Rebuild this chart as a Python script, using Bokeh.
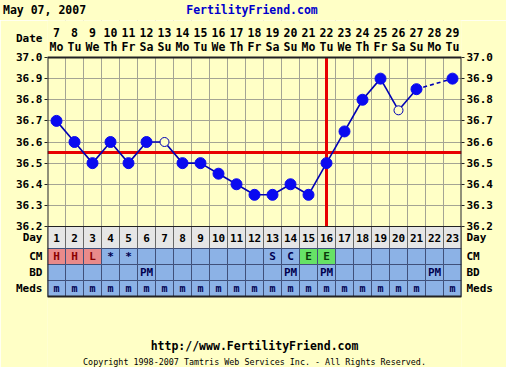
from bokeh.plotting import figure
from bokeh.layouts import column
from bokeh.models import Range1d, FixedTicker, LinearAxis, ColumnDataSource, Div
from bokeh.core.properties import value
from bokeh.embed import file_html
from bokeh.resources import INLINE

# ---------------- data ----------------
title_date = "May 07, 2007"
site = "FertilityFriend.com"
footer_url = "http://www.FertilityFriend.com"
footer_copy = "Copyright 1998-2007 Tamtris Web Services Inc. - All Rights Reserved."
date_label = "Date"

dates = [7, 8, 9, 10, 11, 12, 13, 14, 15, 16, 17, 18, 19, 20, 21, 22, 23, 24, 25, 26, 27, 28, 29]
weekdays = ["Mo", "Tu", "We", "Th", "Fr", "Sa", "Su", "Mo", "Tu", "We", "Th", "Fr", "Sa", "Su",
            "Mo", "Tu", "We", "Th", "Fr", "Sa", "Su", "Mo", "Tu"]
cycle_days = list(range(1, 24))
temps = [36.7, 36.6, 36.5, 36.6, 36.5, 36.6, 36.6, 36.5, 36.5, 36.45, 36.4, 36.35, 36.35, 36.4,
         36.35, 36.5, 36.65, 36.8, 36.9, 36.75, 36.85, None, 36.9]
open_days = [7, 20]
coverline = 36.55
ovulation_day = 16
temp_ticks = [36.2, 36.3, 36.4, 36.5, 36.6, 36.7, 36.8, 36.9, 37.0]

row_names = ["Day", "CM", "BD", "Meds"]
cm_codes = ["H", "H", "L", "*", "*", "", "", "", "", "", "", "", "S", "C", "E", "E", "", "", "", "", "", "", ""]
bd_codes = ["", "", "", "", "", "PM", "", "", "", "", "", "", "", "PM", "", "PM", "", "", "", "", "", "PM", ""]
meds_codes = ["m"] * 21 + ["", "m"]

# ---------------- styles / layout (pixels) ----------------
BG = "#FFFFC6"
GRID = "#A4A494"
BLUE_PT = "#0A0AF0"
BLUE_LN = "#0000B4"
RED = "#E80000"
FONT = "DejaVu Sans Mono"
W, H = 506, 367
TITLE_H = 20                 # html title strip
FRAME_L, FRAME_R = 47, 45
CHART_TOP = 57               # screen y of the top temperature tick
ROW_PX = [22, 16, 16, 16]
PX_PER_DEG = 169 / 0.8
DATE_ROW_Y, WDAY_ROW_Y, DATE_LABEL_Y = 32, 46, 38
URL_Y, COPY_Y = 345, 361

T_LO = temp_ticks[0]
T_HI = temp_ticks[-1]
Y_LO = T_LO - sum(ROW_PX) / PX_PER_DEG          # bottom of the table
X_LO = cycle_days[0] - 0.5
X_HI = cycle_days[-1] + 0.5


def ty(screen_y):
    """temperature-axis value for a screen row of the page"""
    return T_HI + (CHART_TOP - screen_y) / PX_PER_DEG


Y_TOP = ty(TITLE_H)
Y_BOTTOM = ty(H)

row_top, row_bot = [], []
cur = T_LO
for hgt in ROW_PX:
    row_top.append(cur)
    cur = cur - hgt / PX_PER_DEG
    row_bot.append(cur)
row_mid = [(a + b) / 2 for a, b in zip(row_top, row_bot)]

# ---------------- title strip ----------------
title_html = (
    f'<div style="position:relative;width:{W}px;height:{TITLE_H}px;background:{BG};'
    f"font-family:'{FONT}',monospace;font-weight:bold;font-size:11.5px;line-height:{TITLE_H}px;\">"
    f'<span style="position:absolute;left:3px;top:0px;color:#000000;">{title_date}</span>'
    f'<span style="position:absolute;left:0px;width:{W - 2}px;text-align:center;top:0px;color:#0000CC;">{site}</span>'
    '</div>'
)
title_div = Div(text=title_html, width=W, height=TITLE_H, margin=0)

# ---------------- main figure ----------------
p = figure(width=W, height=H - TITLE_H,
           x_range=Range1d(X_LO, X_HI), y_range=Range1d(Y_BOTTOM, Y_TOP),
           output_backend="svg", toolbar_location=None,
           x_axis_location=None, y_axis_location=None,
           min_border_left=FRAME_L, min_border_right=FRAME_R,
           min_border_top=0, min_border_bottom=0,
           background_fill_color=BG, border_fill_color=BG,
           outline_line_color=None)

p.xgrid.ticker = FixedTicker(ticks=[d - 0.5 for d in cycle_days] + [X_HI])
p.ygrid.ticker = FixedTicker(ticks=temp_ticks)
p.xgrid.grid_line_color = GRID
p.ygrid.grid_line_color = GRID

temp_over = {t: f"{t:.1f}" for t in temp_ticks}
for name, m in zip(row_names, row_mid):
    temp_over[m] = name
left_over = dict(temp_over)
left_over[ty(DATE_LABEL_Y)] = date_label

for loc, extra, over in (("left", [ty(DATE_LABEL_Y)], left_over), ("right", [], temp_over)):
    ax = LinearAxis(ticker=FixedTicker(ticks=extra + temp_ticks + row_mid, minor_ticks=temp_ticks),
                    major_label_overrides=over)
    ax.axis_line_color = None
    ax.major_tick_in = 0
    ax.major_tick_out = 0
    ax.minor_tick_in = 0
    ax.minor_tick_out = 3
    ax.minor_tick_line_color = "#222222"
    ax.major_label_standoff = 2
    ax.major_label_text_font = FONT
    ax.major_label_text_font_style = "bold"
    ax.major_label_text_font_size = "11px"
    ax.major_label_text_color = "#000000"
    p.add_layout(ax, loc)

# background strips covering grid outside the chart/table
p.quad(left=[X_LO, X_LO], right=[X_HI, X_HI], top=[Y_TOP, Y_LO], bottom=[T_HI, Y_BOTTOM],
       fill_color=BG, line_color=None)

# header: dates and weekdays
hdr_font = dict(text_font=value(FONT), text_font_style="bold", text_font_size="11.5px",
                text_align="center", text_baseline="middle", text_color="#000000")
p.text(x=cycle_days, y=[ty(DATE_ROW_Y)] * len(cycle_days), text=[str(d) for d in dates], **hdr_font)
p.text(x=cycle_days, y=[ty(WDAY_ROW_Y)] * len(cycle_days), text=weekdays, **hdr_font)

# table cells
cells = dict(left=[], right=[], top=[], bottom=[], fill=[], line=[])
texts = dict(x=[], y=[], t=[], c=[], s=[])
row_values = [[str(d) for d in cycle_days], cm_codes, bd_codes, meds_codes]
for r, vals in enumerate(row_values):
    for d, v in zip(cycle_days, vals):
        cells["left"].append(d - 0.5)
        cells["right"].append(d + 0.5)
        cells["top"].append(row_top[r])
        cells["bottom"].append(row_bot[r])
        if r == 0:
            fill, line = "#E6E6E6", "#6A6A6A"
        elif r == 1 and v in ("H", "L"):
            fill, line = "#E98A8A", "#40507A"
        elif r == 1 and v == "E":
            fill, line = "#66E266", "#40507A"
        else:
            fill, line = "#8CB2E6", "#40507A"
        cells["fill"].append(fill)
        cells["line"].append(line)
        if v:
            texts["x"].append(d)
            texts["y"].append(row_mid[r])
            texts["t"].append(v)
            if r == 0:
                col = "#000000"
            elif v in ("H", "L"):
                col = "#8A0000"
            elif v == "E":
                col = "#0A3A0A"
            else:
                col = "#000050"
            texts["c"].append(col)
            texts["s"].append("10px" if r == 3 else "11px")

p.quad(left="left", right="right", top="top", bottom="bottom", fill_color="fill",
       line_color="line", line_width=1, source=ColumnDataSource(cells))
p.text(x="x", y="y", text="t", text_color="c", text_font_size="s", source=ColumnDataSource(texts),
       text_font=value(FONT), text_font_style="bold", text_align="center", text_baseline="middle")

# ovulation & coverline
p.segment(x0=[X_LO], y0=[coverline], x1=[X_HI], y1=[coverline], line_color=RED, line_width=3)
p.segment(x0=[ovulation_day], y0=[T_LO], x1=[ovulation_day], y1=[T_HI], line_color=RED, line_width=3)

# border of chart + table
p.quad(left=[X_LO], right=[X_HI], top=[T_HI], bottom=[Y_LO], fill_color=None,
       line_color="#222222", line_width=2)
p.segment(x0=[X_LO], y0=[T_LO], x1=[X_HI], y1=[T_LO], line_color="#222222", line_width=1)

# temperature line
valid = [(d, t) for d, t in zip(cycle_days, temps) if t is not None]
sx, sy, dx0, dy0, dx1, dy1 = [], [], [], [], [], []
for (d0, t0), (d1, t1) in zip(valid[:-1], valid[1:]):
    if d1 - d0 == 1:
        sx.append([d0, d1]); sy.append([t0, t1])
    else:
        dx0.append(d0); dy0.append(t0); dx1.append(d1); dy1.append(t1)
p.multi_line(xs=sx, ys=sy, line_color=BLUE_LN, line_width=1.6)
p.segment(x0=dx0, y0=dy0, x1=dx1, y1=dy1, line_color=BLUE_LN, line_width=1.6, line_dash="4 3")

fx = [d for d, t in valid if d not in open_days]
fy = [t for d, t in valid if d not in open_days]
ox = [d for d, t in valid if d in open_days]
oy = [t for d, t in valid if d in open_days]
p.scatter(fx, fy, size=11, fill_color=BLUE_PT, line_color=BLUE_PT)
p.scatter(ox, oy, size=9, fill_color=BG, line_color=BLUE_LN, line_width=1)

# footer
xc = (X_LO + X_HI) / 2
p.text(x=[xc], y=[ty(URL_Y)], text=[footer_url], text_font=value(FONT), text_font_style="bold",
       text_font_size="11.5px", text_align="center", text_baseline="middle", text_color="#000000")
p.text(x=[xc], y=[ty(COPY_Y)], text=[footer_copy], text_font=value(FONT), text_font_style="normal",
       text_font_size="8.4px", text_align="center", text_baseline="middle", text_color="#000000")

layout = column(title_div, p, spacing=0)
open("out.html", "w").write(file_html(layout, INLINE))
